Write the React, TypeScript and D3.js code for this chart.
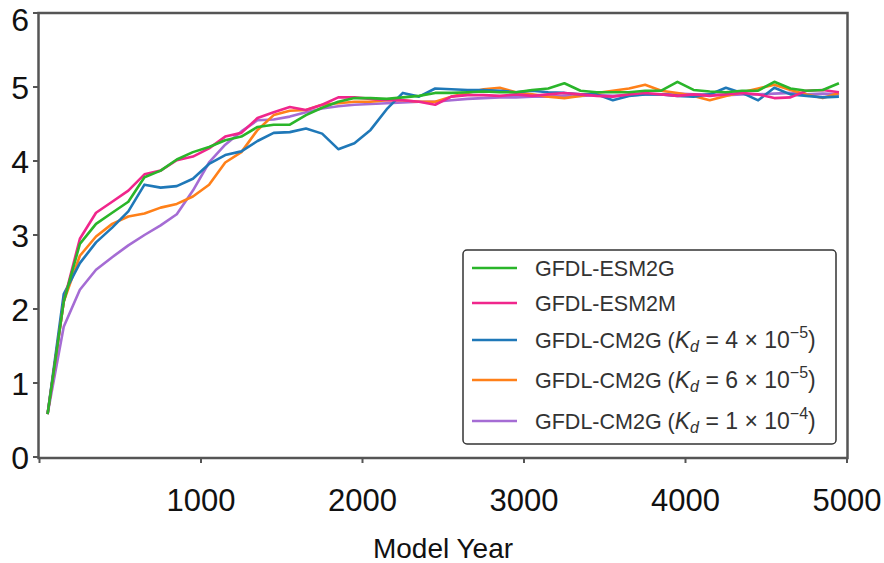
import React from "react";
import * as d3 from "d3";

const years: number[] = [50,150,250,350,450,550,650,750,850,950,1050,1150,1250,1350,1450,1550,1650,1750,1850,1950,2050,2150,2250,2350,2450,2550,2650,2750,2850,2950,3050,3150,3250,3350,3450,3550,3650,3750,3850,3950,4050,4150,4250,4350,4450,4550,4650,4750,4850,4950];

const esm2g: number[] = [0.58,2.1,2.88,3.15,3.3,3.45,3.78,3.87,4.02,4.12,4.19,4.28,4.33,4.46,4.49,4.49,4.62,4.72,4.8,4.85,4.85,4.84,4.86,4.88,4.92,4.92,4.93,4.94,4.93,4.93,4.96,4.98,5.05,4.95,4.93,4.93,4.93,4.95,4.95,5.07,4.96,4.94,4.93,4.95,4.95,5.07,4.98,4.95,4.96,5.05];
const esm2m: number[] = [0.58,2.1,2.95,3.3,3.45,3.6,3.82,3.87,4.01,4.06,4.17,4.33,4.38,4.58,4.66,4.73,4.69,4.76,4.86,4.86,4.84,4.82,4.82,4.8,4.76,4.87,4.89,4.89,4.88,4.9,4.88,4.9,4.92,4.9,4.88,4.87,4.9,4.92,4.9,4.88,4.9,4.88,4.9,4.92,4.9,4.85,4.86,4.95,4.96,4.93];
const cm2gKd4: number[] = [0.58,2.2,2.62,2.9,3.1,3.32,3.68,3.64,3.66,3.76,3.96,4.08,4.13,4.27,4.38,4.39,4.44,4.37,4.16,4.24,4.42,4.7,4.92,4.87,4.98,4.97,4.96,4.96,4.95,4.93,4.95,4.93,4.92,4.9,4.9,4.82,4.88,4.9,4.9,4.88,4.87,4.9,4.99,4.92,4.82,4.99,4.9,4.88,4.86,4.87];
const cm2gKd6: number[] = [0.58,2.1,2.72,2.98,3.15,3.25,3.29,3.37,3.42,3.52,3.68,3.98,4.12,4.42,4.62,4.68,4.69,4.76,4.78,4.8,4.8,4.82,4.82,4.8,4.8,4.87,4.92,4.97,4.99,4.93,4.9,4.87,4.85,4.88,4.92,4.95,4.98,5.03,4.95,4.92,4.88,4.82,4.88,4.93,4.98,5.03,4.96,4.9,4.85,4.92];
const cm2gKd10: number[] = [0.58,1.76,2.26,2.53,2.7,2.86,3.0,3.13,3.28,3.6,3.98,4.22,4.4,4.55,4.56,4.6,4.66,4.71,4.74,4.76,4.77,4.78,4.79,4.8,4.8,4.82,4.84,4.85,4.86,4.86,4.87,4.87,4.88,4.88,4.89,4.88,4.89,4.9,4.9,4.91,4.9,4.9,4.89,4.9,4.9,4.91,4.92,4.9,4.91,4.9];

const xTicks: number[] = [0,1000,2000,3000,4000,5000];
const xTickLabels: string[] = ["","1000","2000","3000","4000","5000"];
const yTicks: number[] = [0,1,2,3,4,5,6];

const seriesNames: string[] = ["GFDL-ESM2G","GFDL-ESM2M","GFDL-CM2G","GFDL-CM2G","GFDL-CM2G"];
const kdMantissa: (string | null)[] = [null, null, "4", "6", "1"];
const kdExponent: (string | null)[] = [null, null, "\u22125", "\u22125", "\u22124"];
const colors: string[] = ["#2ab52a","#f0268c","#1f78b8","#ff8019","#a56cd4"];

export default function App() {
  const W = 884, H = 563;
  const x = d3.scaleLinear().domain([0, 5000]).range([39.5, 847]);
  const y = d3.scaleLinear().domain([0, 6]).range([457, 13]);
  const allSeries = [esm2g, esm2m, cm2gKd4, cm2gKd6, cm2gKd10];
  const line = d3.line<number>().x((_, i) => x(years[i])).y((v) => y(v));
  const drawOrder = [4, 3, 2, 1, 0];
  const font = "'Liberation Sans', Arial, sans-serif";
  const legendRows = [268, 303, 340, 380, 421];

  return (
    <svg width={W} height={H} style={{ position: "absolute", left: 0, top: 0, background: "#fff" }}>
      <rect x={0} y={0} width={W} height={H} fill="#fff" />
      {drawOrder.map((si) => (
        <path key={si} d={line(allSeries[si]) || ""} fill="none" stroke={colors[si]} strokeWidth={2.6} strokeLinejoin="round" />
      ))}
      {/* frame */}
      <rect x={38.5} y={13} width={809} height={445} fill="none" stroke="#555" strokeWidth={2.5} />
      {/* y ticks */}
      {yTicks.map((t) => (
        <g key={"y" + t}>
          <line x1={33} x2={38} y1={y(t)} y2={y(t)} stroke="#555" strokeWidth={2} />
          <text x={29} y={Math.max(y(t), 19)} dy="0.36em" textAnchor="end" fontFamily={font} fontSize={32} fill="#111">{t}</text>
        </g>
      ))}
      {/* x ticks */}
      {xTicks.map((t, i) => (
        <g key={"x" + t}>
          <line x1={x(t)} x2={x(t)} y1={458} y2={463} stroke="#555" strokeWidth={2} />
          <text x={x(t)} y={511} textAnchor="middle" fontFamily={font} fontSize={31} fill="#111">{xTickLabels[i]}</text>
        </g>
      ))}
      <text x={443} y={558} textAnchor="middle" fontFamily={font} fontSize={28} fill="#111">Model Year</text>
      {/* legend */}
      <rect x={463} y={250} width={373} height={194} rx={4} fill="#fff" stroke="#333" strokeWidth={1.5} />
      {seriesNames.map((name, i) => (
        <g key={"lg" + i}>
          <line x1={472} x2={517} y1={legendRows[i]} y2={legendRows[i]} stroke={colors[i]} strokeWidth={2.6} />
          <text x={535} y={legendRows[i]} dy="0.35em" fontFamily={font} fontSize={21.5} fill="#333">
            {name}
            {kdMantissa[i] !== null && (
              <>
                <tspan> (</tspan>
                <tspan fontStyle="italic" fontSize={23}>K</tspan>
                <tspan fontStyle="italic" fontSize={16} dy={4}>d</tspan>
                <tspan dy={-4} fontSize={23}>{" = " + kdMantissa[i] + " \u00d7 10"}</tspan>
                <tspan fontSize={16} dy={-10}>{kdExponent[i]}</tspan>
                <tspan dy={10} fontSize={23}>)</tspan>
              </>
            )}
          </text>
        </g>
      ))}
    </svg>
  );
}
